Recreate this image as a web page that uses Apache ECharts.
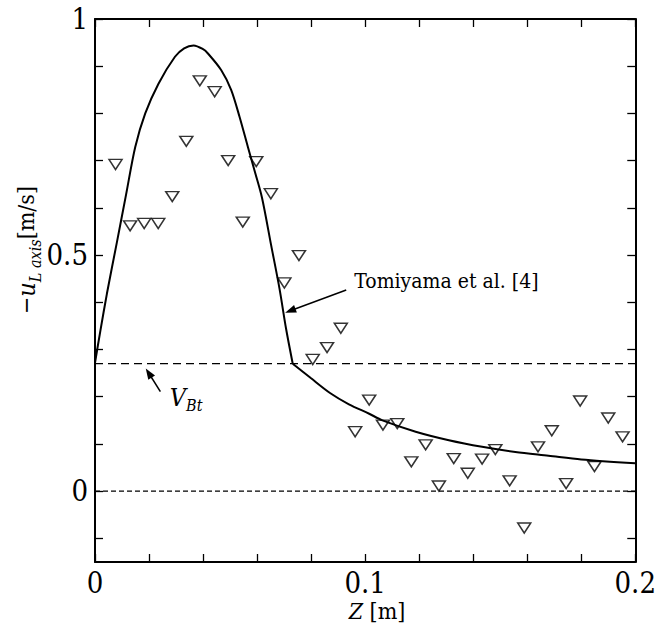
<!DOCTYPE html>
<html><head><meta charset="utf-8">
<script src="https://cdn.jsdelivr.net/npm/echarts@6/dist/echarts.min.js"></script>
<style>html,body{margin:0;padding:0;background:#fff}#c{width:659px;height:630px}</style>
</head><body><div id="c"></div>
<script>
// Experimental points: Z [m] and -u_L axis [m/s]
const expZ = [0.0076,0.0130,0.0182,0.0234,0.0286,0.0338,0.0388,0.0443,0.0493,0.0547,0.0597,0.0651,0.0701,0.0755,0.0806,0.0859,0.0910,0.0963,0.1015,0.1066,0.1119,0.1171,0.1224,0.1273,0.1328,0.1380,0.1433,0.1482,0.1535,0.1589,0.1640,0.1691,0.1744,0.1796,0.1849,0.1900,0.1953];
const expU = [0.692,0.562,0.567,0.567,0.624,0.741,0.869,0.846,0.700,0.570,0.698,0.630,0.441,0.499,0.279,0.304,0.345,0.126,0.193,0.140,0.143,0.062,0.098,0.011,0.069,0.038,0.068,0.088,0.022,-0.078,0.094,0.128,0.016,0.191,0.052,0.155,0.115];
// Tomiyama et al. [4] curve: rising/falling part up to the kink, then the decaying tail
const humpZ = [0,0.0020,0.0044,0.0081,0.0115,0.0149,0.0186,0.0235,0.0296,0.0330,0.0365,0.0400,0.0418,0.0467,0.0504,0.0535,0.0566,0.0590,0.0618,0.0652,0.0683,0.0707,0.0732];
const humpU = [0.272,0.340,0.418,0.527,0.628,0.729,0.800,0.863,0.920,0.938,0.944,0.936,0.927,0.892,0.850,0.793,0.729,0.680,0.622,0.521,0.429,0.345,0.270];
const tailZ = [0.0732,0.0800,0.0870,0.0940,0.1015,0.1064,0.1187,0.1310,0.1433,0.1556,0.1679,0.1800,0.2000];
const tailU = [0.270,0.239,0.208,0.184,0.164,0.150,0.126,0.108,0.094,0.083,0.075,0.067,0.059];
const vBt = 0.27;
const zeroLevel = 0;
const xRange = [0, 0.2];
const yRange = [-0.15, 1];
const xTicks = [0,0.02,0.04,0.06,0.08,0.1,0.12,0.14,0.16,0.18,0.2];
const xLabels = [0,0.1,0.2];
const yTicks = [-0.1,0,0.1,0.2,0.3,0.4,0.5,0.6,0.7,0.8,0.9,1];
const yLabels = [0,0.5,1];

const FONT = 'DejaVu Serif Condensed, DejaVu Serif';
const chart = echarts.init(document.getElementById('c'), null, {renderer:'svg'});

function fmt(v){ return String(Math.round(v*1000)/1000); }
function axisX(pos, show){
  return {type:'value', position:pos, min:xRange[0], max:xRange[1],
    axisLine:{show:true, onZero:false, lineStyle:{color:'#000', width:2}},
    axisTick:{show:true, inside:true, length:8, customValues:xTicks, lineStyle:{color:'#000', width:1.3}},
    axisLabel:{show:show, customValues:xLabels, formatter:fmt, color:'#000', fontFamily:FONT, fontSize:29, margin:6},
    splitLine:{show:false}};
}
function axisY(pos, show){
  return {type:'value', position:pos, min:yRange[0], max:yRange[1],
    axisLine:{show:true, onZero:false, lineStyle:{color:'#000', width:2}},
    axisTick:{show:true, inside:true, length:8, customValues:yTicks, lineStyle:{color:'#000', width:1.3}},
    axisLabel:{show:show, customValues:yLabels, formatter:fmt, color:'#000', fontFamily:FONT, fontSize:29, margin:7},
    splitLine:{show:false}};
}

chart.setOption({
  animation:false,
  backgroundColor:'#fff',
  grid:{left:95, right:22, top:19, bottom:68, containLabel:false},
  xAxis:[axisX('bottom', true), axisX('top', false)],
  yAxis:[axisY('left', true), axisY('right', false)],
  series:[
    {type:'line', data:[[xRange[0], vBt],[xRange[1], vBt]], symbol:'none', silent:true,
      lineStyle:{color:'#000', width:1.2, type:[8,5]}},
    {type:'line', data:[[xRange[0], zeroLevel],[xRange[1], zeroLevel]], symbol:'none', silent:true,
      lineStyle:{color:'#000', width:1.2, type:[5,3]}},
    {type:'line', data:humpZ.map((z,i)=>[z, humpU[i]]), symbol:'none', smooth:0.3,
      lineStyle:{color:'#000', width:2}},
    {type:'line', data:tailZ.map((z,i)=>[z, tailU[i]]), symbol:'none', smooth:0.3,
      lineStyle:{color:'#000', width:2}},
    {type:'scatter', data:expZ.map((z,i)=>[z, expU[i]]), symbol:'path://M0,0L12,0L6,10Z', symbolSize:[13,10],
      itemStyle:{color:'rgba(0,0,0,0)', borderColor:'#000', borderWidth:1.5}}
  ]
});

function P(x,y){ return chart.convertToPixel({gridIndex:0}, [x,y]); }
function arrow(tail, tip){
  const dx = tip[0]-tail[0], dy = tip[1]-tail[1];
  const L = Math.hypot(dx,dy), ux = dx/L, uy = dy/L;
  const hl = 11, hw = 4;
  const bx = tip[0]-ux*hl, by = tip[1]-uy*hl;
  return [
    {type:'line', shape:{x1:tail[0], y1:tail[1], x2:bx+ux*2, y2:by+uy*2}, style:{stroke:'#000', lineWidth:1.5}},
    {type:'polygon', shape:{points:[[tip[0],tip[1]],[bx-uy*hw, by+ux*hw],[bx+uy*hw, by-ux*hw]]}, style:{fill:'#000'}}
  ];
}
const t1 = P(0.093,0.426), h1 = P(0.0704,0.378);
const t2 = P(0.0242,0.211), h2 = P(0.0188,0.260);
const txtPos = P(0.096,0.445);
const vPos = P(0.0277,0.199);

const graphic = [].concat(
  arrow(t1,h1), arrow(t2,h2),
  [
    {type:'text', x:txtPos[0], y:txtPos[1], style:{text:'Tomiyama et al. [4]', fontFamily:FONT, fontSize:21, fill:'#000', textVerticalAlign:'middle'}},
    {type:'text', x:vPos[0], y:vPos[1], style:{text:'{v|V}{s|Bt}', fill:'#000', textVerticalAlign:'middle',
      rich:{v:{fontFamily:FONT, fontStyle:'italic', fontSize:25, lineHeight:32, verticalAlign:'middle'},
            s:{fontFamily:FONT, fontStyle:'italic', fontSize:16, lineHeight:17, verticalAlign:'bottom'}}}},
    {type:'text', x:377, y:611, style:{text:'{i|Z}{n| [m]}', fill:'#000', textAlign:'center', textVerticalAlign:'middle',
      rich:{i:{fontFamily:FONT, fontStyle:'italic', fontSize:23}, n:{fontFamily:FONT, fontSize:23}}}},
    {type:'text', x:26, y:250, rotation:Math.PI/2, style:{text:'{n|\u2212}{i|u}{s|L axis}{n|[m/s]}', fill:'#000', textAlign:'center', textVerticalAlign:'middle',
      rich:{n:{fontFamily:FONT, fontSize:23, lineHeight:34, verticalAlign:'middle'},
            i:{fontFamily:FONT, fontStyle:'italic', fontSize:25, lineHeight:34, verticalAlign:'middle'},
            s:{fontFamily:FONT, fontStyle:'italic', fontSize:16, lineHeight:17, verticalAlign:'bottom'}}}}
  ]
);
chart.setOption({graphic: graphic});
</script>
</body></html>
